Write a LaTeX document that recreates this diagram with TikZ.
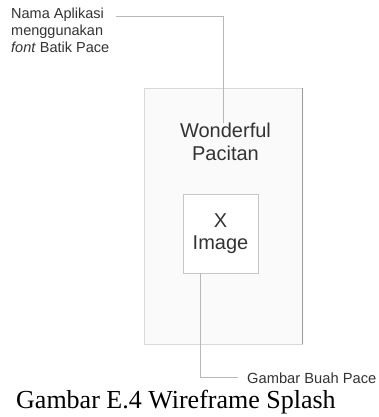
\documentclass[tikz,border=0pt]{standalone}
\usepackage{fontspec}
\setmainfont{Liberation Sans}
\newfontfamily\captionfont{Liberation Serif}
\begin{document}
\begin{tikzpicture}[x=1pt,y=-1pt,
  framebox/.style={draw=black!15,fill=black!2,line width=0.8pt},
  imagebox/.style={draw=black!22,fill=white,line width=0.8pt},
  leader/.style={draw=black!28,line width=0.7pt},
  label/.style={inner sep=0pt,text=black!80},
  ]
  \useasboundingbox[fill=white] (0,0) rectangle (379,417);

  % screen frame of the splash page
  \path[framebox] (144,88) rectangle (302,344);
  \draw[black!40,line width=0.9pt] (302,88) -- (302,344);

  % application title
  \node[label,anchor=north,align=center,font=\fontsize{20}{23}\selectfont]
    (title) at (225.5,122.5) {Wonderful\\Pacitan};

  % image placeholder
  \node[imagebox,minimum width=75pt,minimum height=79pt,inner sep=0pt,
        align=center,font=\fontsize{20}{22}\selectfont,text=black!80]
    (image) at (220.5,233.5) {X\\Image};

  % annotation for the title
  \node[label,anchor=north west,align=left,font=\fontsize{14.5}{16.8}\selectfont]
    (note1) at (11,8) {Nama Aplikasi\\menggunakan\\\textit{font} Batik Pace};
  \coordinate (k1) at (116,16);
  \coordinate (k2) at (223,16);
  \draw[leader] (k1) -- (k2) -- (k2 |- title.north);

  % annotation for the image
  \coordinate (b1) at (200,377);
  \coordinate (b2) at (238,377);
  \node[label,anchor=base west,font=\fontsize{14.7}{17}\selectfont]
    (note2) at (247,383) {Gambar Buah Pace};
  \draw[leader] (image.south -| b1) -- (b1) -- (b2);

  % figure caption
  \node[inner sep=0pt,anchor=base west,font=\captionfont\fontsize{26}{30}\selectfont]
    (caption) at (16,408) {Gambar E.4 Wireframe Splash};
\end{tikzpicture}
\end{document}
